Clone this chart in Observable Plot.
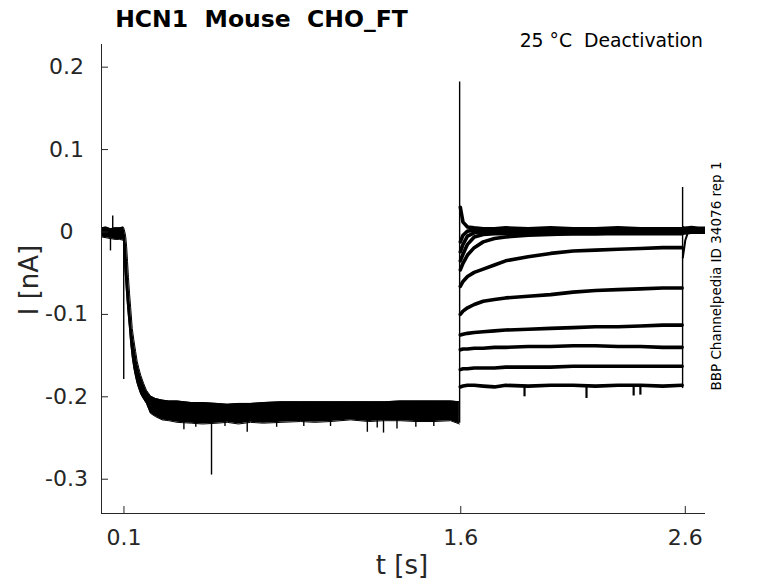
<!DOCTYPE html>
<html><head><meta charset="utf-8">
<script src="https://cdn.jsdelivr.net/npm/d3@7"></script>
<script src="https://cdn.jsdelivr.net/npm/@observablehq/plot@0.6"></script>
<style>html,body{margin:0;padding:0;background:#fff;} svg{display:block;}</style>
</head><body><div id="chart"></div>
<script>
// ---- data ----
const xDomain = [0, 2.69];
const yDomain = [-0.3416, 0.2275];
const xTicks = [0.1, 1.6, 2.6];
const xTickLabels = ["0.1", "1.6", "2.6"];
const yTicks = [0.2, 0.1, 0, -0.1, -0.2, -0.3];
const yTickLabels = ["0.2", "0.1", "0", "-0.1", "-0.2", "-0.3"];

// common noisy envelope of all sweeps (holding + activation step)
const bandT  = [0.000, 0.020, 0.040, 0.060, 0.080, 0.097, 0.099, 0.104, 0.108, 0.112, 0.116, 0.120, 0.125, 0.130, 0.137, 0.144, 0.152, 0.159, 0.166, 0.175, 0.188, 0.200, 0.218, 0.240, 0.270, 0.300, 0.337, 0.400, 0.450, 0.515, 0.560, 0.610, 0.664, 0.720, 0.800, 0.886, 0.950, 1.020, 1.109, 1.190, 1.260, 1.330, 1.400, 1.480, 1.555, 1.594];
const bandHi = [0.005, 0.006, 0.004, 0.005, 0.005, 0.006, 0.005, 0.000, -0.006, -0.018, -0.036, -0.055, -0.075, -0.092, -0.117, -0.131, -0.145, -0.157, -0.165, -0.174, -0.184, -0.192, -0.199, -0.202, -0.204, -0.205, -0.205, -0.207, -0.207, -0.208, -0.209, -0.208, -0.208, -0.207, -0.206, -0.206, -0.206, -0.206, -0.206, -0.206, -0.206, -0.205, -0.205, -0.205, -0.205, -0.206];
const bandLo = [-0.006, -0.007, -0.008, -0.009, -0.009, -0.010, -0.012, -0.044, -0.060, -0.076, -0.090, -0.103, -0.118, -0.135, -0.152, -0.165, -0.176, -0.184, -0.190, -0.197, -0.203, -0.208, -0.220, -0.224, -0.228, -0.229, -0.231, -0.232, -0.233, -0.232, -0.231, -0.233, -0.231, -0.232, -0.231, -0.230, -0.231, -0.230, -0.228, -0.230, -0.229, -0.229, -0.230, -0.230, -0.229, -0.233];

// narrow spikes / glitches: time, start value, end value
const spikeT    = [0.040, 0.050, 0.099, 0.367, 0.420, 0.490, 0.550, 0.649, 0.780, 0.901, 1.020, 1.184, 1.228, 1.256, 1.316, 1.400, 1.480, 1.595, 2.588];
const spikeFrom = [0.000, 0.000, -0.005, -0.228, -0.228, -0.228, -0.228, -0.228, -0.228, -0.228, -0.228, -0.228, -0.228, -0.228, -0.228, -0.228, -0.228, -0.232, -0.190];
const spikeTo   = [-0.023, 0.0195, -0.179, -0.240, -0.237, -0.295, -0.236, -0.243, -0.237, -0.236, -0.236, -0.243, -0.238, -0.244, -0.239, -0.237, -0.236, 0.182, 0.054];

// small noise dips on the lowest deactivation sweep
const dipT    = [1.884, 2.160, 2.370, 2.400];
const dipFrom = [-0.186, -0.186, -0.186, -0.186];
const dipTo   = [-0.200, -0.202, -0.199, -0.198];

// deactivation step: one series per sweep
const p3T = [1.598, 1.610, 1.630, 1.660, 1.700, 1.750, 1.800, 1.900, 2.000, 2.100, 2.200, 2.300, 2.400, 2.500, 2.586];
const sweepT1 = [0.030, 0.012, 0.006, 0.005, 0.004, 0.004, 0.005, 0.004, 0.005, 0.004, 0.004, 0.005, 0.004, 0.004, 0.004];
const sweepT2 = [-0.012, -0.004, 0.001, 0.002, 0.002, 0.002, 0.002, 0.003, 0.002, 0.002, 0.003, 0.002, 0.002, 0.003, 0.002];
const sweepT3 = [-0.024, -0.015, -0.005, -0.001, 0.000, 0.000, 0.001, 0.000, 0.001, 0.000, 0.000, 0.001, 0.000, 0.001, 0.000];
const sweepT4 = [-0.035, -0.027, -0.015, -0.006, -0.003, -0.002, -0.002, -0.002, -0.002, -0.002, -0.002, -0.002, -0.002, -0.002, -0.002];
const sweepA  = [-0.046, -0.038, -0.028, -0.019, -0.012, -0.008, -0.006, -0.004, -0.003, -0.002, -0.002, -0.001, -0.001, -0.001, -0.001];
const sweepB  = [-0.066, -0.060, -0.054, -0.049, -0.045, -0.040, -0.035, -0.030, -0.026, -0.023, -0.022, -0.021, -0.020, -0.019, -0.019];
const sweepC  = [-0.100, -0.096, -0.092, -0.088, -0.084, -0.082, -0.080, -0.078, -0.076, -0.073, -0.071, -0.070, -0.069, -0.068, -0.068];
const sweepD  = [-0.125, -0.124, -0.123, -0.122, -0.121, -0.120, -0.119, -0.118, -0.117, -0.116, -0.115, -0.115, -0.114, -0.113, -0.113];
const sweepE  = [-0.143, -0.142, -0.142, -0.141, -0.141, -0.140, -0.140, -0.139, -0.139, -0.138, -0.138, -0.139, -0.139, -0.140, -0.140];
const sweepF  = [-0.167, -0.166, -0.166, -0.165, -0.165, -0.165, -0.164, -0.164, -0.164, -0.163, -0.163, -0.163, -0.163, -0.163, -0.163];
const sweepG  = [-0.188, -0.187, -0.186, -0.186, -0.187, -0.188, -0.186, -0.187, -0.186, -0.186, -0.187, -0.186, -0.186, -0.187, -0.186];

// return to holding after 2.588 s
const postT  = [2.589, 2.600, 2.630, 2.660, 2.690];
const postHi = [0.007, 0.006, 0.007, 0.006, 0.006];
const postLo = [-0.004, -0.004, -0.003, -0.003, -0.003];
const tailT = [2.589, 2.595, 2.600, 2.610];
const tailV = [-0.031, -0.020, -0.010, -0.002];

// ---- build tables ----
const band = bandT.map((t, i) => ({t, hi: bandHi[i], lo: bandLo[i]}));
const spikes = spikeT.map((t, i) => ({t, from: spikeFrom[i], to: spikeTo[i]}));
const dips = dipT.map((t, i) => ({t, from: dipFrom[i], to: dipTo[i]}));
const sweeps = {T1: sweepT1, T2: sweepT2, T3: sweepT3, T4: sweepT4, A: sweepA, B: sweepB, C: sweepC, D: sweepD, E: sweepE, F: sweepF, G: sweepG};
const p3 = Object.entries(sweeps).flatMap(([k, vals]) => vals.map((v, i) => ({trace: k, t: p3T[i], v})));
const post = postT.map((t, i) => ({t, hi: postHi[i], lo: postLo[i]}));
const tail = tailT.map((t, i) => ({t, v: tailV[i]}));
const yTickRows = yTicks.map((v, i) => ({v, s: yTickLabels[i]}));
const xTickRows = xTicks.map((v, i) => ({v, s: xTickLabels[i]}));

const axisColor = "#262626";
const font = "DejaVu Sans";

const plot = Plot.plot({
  width: 778, height: 583,
  marginLeft: 101, marginRight: 73, marginTop: 44, marginBottom: 70,
  style: {fontFamily: font, background: "white", overflow: "visible"},
  x: {domain: xDomain, axis: null},
  y: {domain: yDomain, axis: null},
  marks: [
    Plot.areaY(band, {x: "t", y1: "lo", y2: "hi", fill: "black"}),
    Plot.line(band, {x: "t", y: "hi", stroke: "black", strokeWidth: 1}),
    Plot.line(band, {x: "t", y: "lo", stroke: "black", strokeWidth: 1}),
    Plot.line(p3, {x: "t", y: "v", z: "trace", stroke: "black", strokeWidth: 3.6, strokeLinejoin: "round"}),
    Plot.ruleX(dips, {x: "t", y1: "from", y2: "to", stroke: "black", strokeWidth: 2.2}),
    Plot.areaY(post, {x: "t", y1: "lo", y2: "hi", fill: "black"}),
    Plot.line(tail, {x: "t", y: "v", stroke: "black", strokeWidth: 2}),
    Plot.ruleX(spikes, {x: "t", y1: "from", y2: "to", stroke: "black", strokeWidth: 1.4}),
    Plot.ruleX([xDomain[0]], {stroke: axisColor}),
    Plot.ruleY([yDomain[0]], {stroke: axisColor}),
    Plot.axisY(yTicks, {anchor: "left", tickSize: -7, tickFormat: () => "", stroke: axisColor, label: null}),
    Plot.axisX(xTicks, {anchor: "bottom", tickSize: -7, tickFormat: () => "", stroke: axisColor, label: null}),
    Plot.text(yTickRows, {x: () => xDomain[0], y: "v", text: "s", dx: -35, textAnchor: "middle", fontSize: 22, fill: axisColor}),
    Plot.text(xTickRows, {x: "v", y: () => yDomain[0], text: "s", dy: 24, textAnchor: "middle", fontSize: 22, fill: axisColor})
  ]
});

const svg = d3.select(plot);
function addText(txt, x, y, opts) {
  const t = svg.append("text").text(txt)
    .attr("x", x).attr("y", y)
    .attr("font-family", font)
    .attr("font-size", opts.size)
    .attr("font-weight", opts.weight || "normal")
    .attr("fill", opts.fill || "black")
    .attr("text-anchor", opts.anchor || "middle")
    .style("white-space", "pre");
  if (opts.rotate) t.attr("transform", `rotate(${opts.rotate},${x},${y})`);
  return t;
}
addText("HCN1  Mouse  CHO_FT", 261.5, 27, {size: 23.5, weight: "bold"});
addText("25 °C  Deactivation", 703, 47, {size: 18.8, anchor: "end"});
addText("BBP Channelpedia ID 34076 rep 1", 721, 276, {size: 13.5, rotate: -90});
addText("t [s]", 402, 574, {size: 26, fill: axisColor});
addText("I [nA]", 38, 280, {size: 26, fill: axisColor, rotate: -90});

document.getElementById("chart").appendChild(plot);
</script>
</body></html>
